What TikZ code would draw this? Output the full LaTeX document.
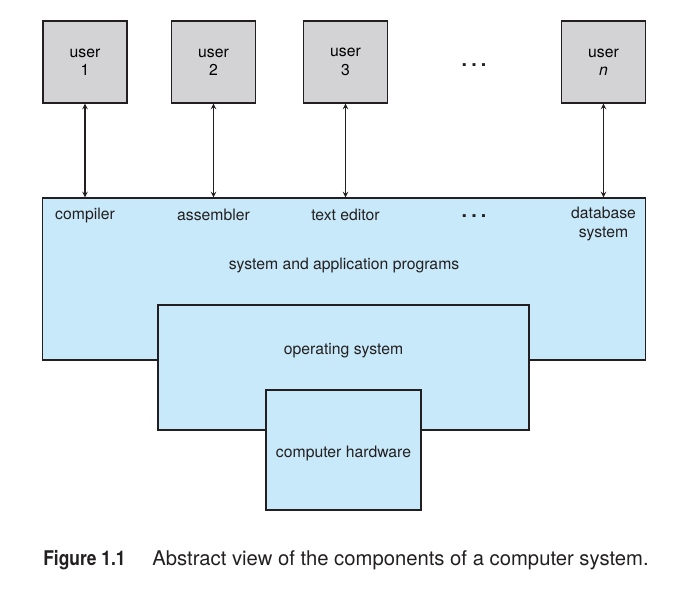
\documentclass[tikz,border=0pt]{standalone}
\usepackage{fontspec}
\usepackage{graphicx}
\setmainfont{TeX Gyre Heros}
\usetikzlibrary{arrows, positioning}
\definecolor{usergray}{RGB}{211,211,213}
\definecolor{layerblue}{RGB}{199,233,249}
\definecolor{inkblack}{RGB}{35,31,32}
\tikzstyle{user} = [rectangle, minimum width=2.1cm, minimum height=2.05cm, text centered, align=center, draw=inkblack, line width=0.8pt, fill=usergray, font=\fontsize{11.2}{13}\selectfont]
\tikzstyle{layer} = [rectangle, draw=inkblack, line width=0.8pt, fill=layerblue]
\tikzstyle{lbl} = [text=inkblack, align=center, font=\fontsize{11.2}{13}\selectfont]
\tikzstyle{dots} = [text=inkblack, font=\fontsize{14}{16}\selectfont\bfseries]
\tikzstyle{arrow} = [inkblack, line width=0.8pt, <->, >=stealth]

\begin{document}
\begin{tikzpicture}[x=0.025cm, y=-0.025cm]
\useasboundingbox (0,0) rectangle (688,589);
% users
\node (u1) [user] at (85,62) {user\\1};
\node (u2) [user] at (213.5,62) {user\\2};
\node (u3) [user] at (345.5,62) {user\\3};
\node (udots) [dots] at (474,65) {.\hspace{3pt}.\hspace{3pt}.};
\node (un) [user] at (603.5,62) {user\\\textit{n}};

% layers
\node (apps) [layer, minimum width=15.05cm, minimum height=4.05cm] at (344,279) {};
\node (os) [layer, minimum width=9.275cm, minimum height=3.125cm] at (343.5,367.5) {};
\node (hw) [layer, minimum width=3.875cm, minimum height=3cm] at (343.5,450) {};

\node (comp) [lbl] at (85,215) {compiler};
\node (asm) [lbl] at (213.5,215) {assembler};
\node (ed) [lbl] at (345.5,215) {text editor};
\node (adots) [dots] at (474,216) {.\hspace{3pt}.\hspace{3pt}.};
\node (db) [lbl] at (603.5,224) {database\\system};
\node (sap) [lbl] at (344,265) {system and application programs};
\node (osl) [lbl] at (343.5,351) {operating system};
\node (hwl) [lbl] at (343.5,453) {computer hardware};

\coordinate (c1) at (u1 |- apps.north);
\coordinate (c2) at (u2 |- apps.north);
\coordinate (c3) at (u3 |- apps.north);
\coordinate (cn) at (un |- apps.north);
\draw[arrow] (u1.south) -- (c1);
\draw[arrow] (u2.south) -- (c2);
\draw[arrow] (u3.south) -- (c3);
\draw[arrow] (un.south) -- (cn);

% caption
\node (fig) [anchor=base west, inner sep=0pt, text=inkblack, font=\fontsize{14.4}{16}\selectfont\bfseries] at (43,565) {\scalebox{0.86}[1]{Figure 1.1}};
\node (cap) [anchor=base west, inner sep=0pt, text=inkblack, font=\fontsize{14.4}{16}\selectfont] at (152,565) {Abstract view of the components of a computer system.};
\end{tikzpicture}
\end{document}
